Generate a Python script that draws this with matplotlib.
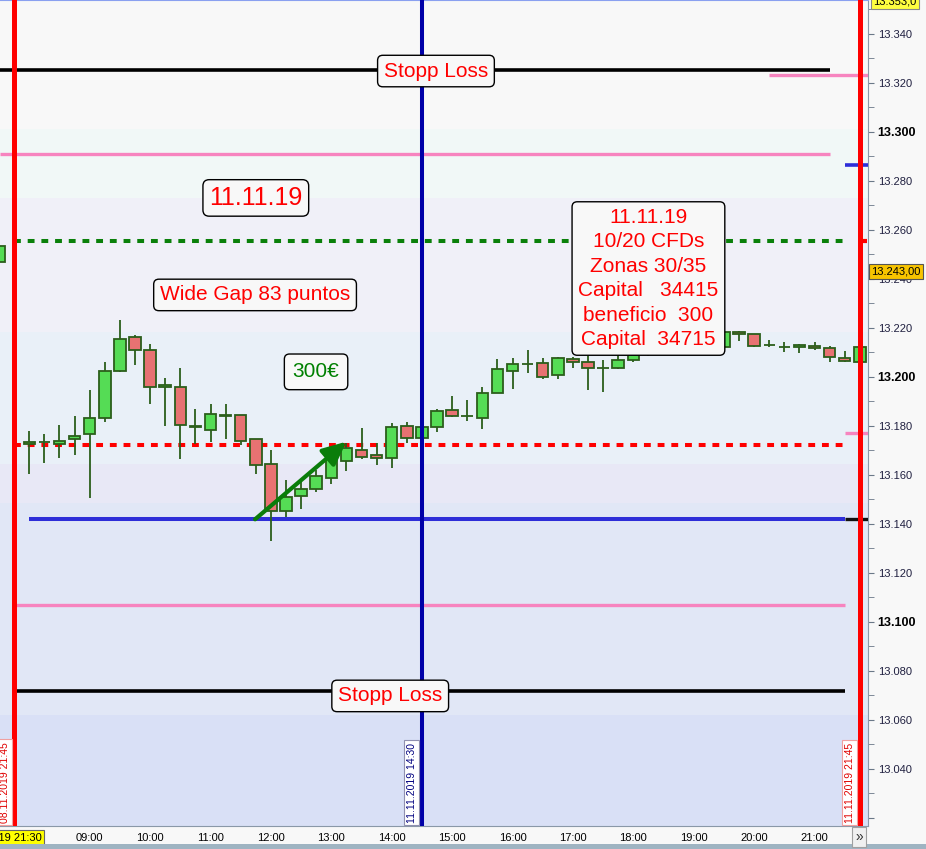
import matplotlib
matplotlib.use("Agg")
import matplotlib.pyplot as plt
from matplotlib.patches import Rectangle
import matplotlib.transforms as mtransforms
import matplotlib.ticker as mticker

plt.rcParams['font.family'] = ['Liberation Sans', 'DejaVu Sans']

# ---------------- data ----------------
# 15-minute slots; slot 0 = 11.11.2019 08:00, slot -2 = 08.11.2019 21:30
slots = [-2] + list(range(56))
opens = [13.2468,
         13.1725, 13.1733, 13.1727, 13.1745, 13.1765, 13.1831, 13.2022, 13.2161,
         13.2108, 13.1957, 13.1957, 13.1799, 13.1782, 13.1842, 13.1843, 13.1745,
         13.1643, 13.1451, 13.1512, 13.1541, 13.1586, 13.1658, 13.1700, 13.1680,
         13.1667, 13.1798, 13.1749, 13.1794, 13.1863, 13.1839, 13.1831, 13.1933,
         13.2022, 13.2053, 13.2055, 13.2006, 13.2071, 13.2059, 13.2037, 13.2035,
         13.2068, 13.2095, 13.2120, 13.2105, 13.2140, 13.2130, 13.2120, 13.2183,
         13.2174, 13.2130, 13.2122, 13.2122, 13.2125, 13.2116, 13.2076, 13.2062]
closes = [13.2535,
          13.1733, 13.1735, 13.1737, 13.1758, 13.1831, 13.2022, 13.2153, 13.2108,
          13.1957, 13.1965, 13.1802, 13.1795, 13.1847, 13.1841, 13.1737, 13.1639,
          13.1451, 13.1508, 13.1541, 13.1595, 13.1663, 13.1708, 13.1671, 13.1667,
          13.1794, 13.1749, 13.1794, 13.1859, 13.1839, 13.1838, 13.1933, 13.2031,
          13.2051, 13.2052, 13.1998, 13.2075, 13.2059, 13.2035, 13.2036, 13.2069,
          13.2095, 13.2120, 13.2105, 13.2140, 13.2130, 13.2120, 13.2182, 13.2174,
          13.2127, 13.2129, 13.2121, 13.2130, 13.2116, 13.2080, 13.2063, 13.2120]
highs = [13.2545,
         13.1779, 13.1765, 13.1802, 13.1840, 13.1946, 13.2060, 13.2232, 13.2171,
         13.2134, 13.1995, 13.2035, 13.1869, 13.1889, 13.1889, 13.1843, 13.1745,
         13.1700, 13.1579, 13.1579, 13.1620, 13.1689, 13.1731, 13.1790, 13.1729,
         13.1810, 13.1816, 13.1807, 13.1867, 13.1922, 13.1905, 13.1958, 13.2073,
         13.2076, 13.2109, 13.2076, 13.2082, 13.2082, 13.2089, 13.2069, 13.2089,
         13.2110, 13.2135, 13.2140, 13.2155, 13.2160, 13.2150, 13.2191, 13.2188,
         13.2174, 13.2150, 13.2141, 13.2133, 13.2143, 13.2125, 13.2107, 13.2131]
lows = [13.2460,
        13.1602, 13.1649, 13.1670, 13.1682, 13.1503, 13.1817, 13.2020, 13.2049,
        13.1890, 13.1800, 13.1666, 13.1727, 13.1735, 13.1747, 13.1720, 13.1602,
        13.1331, 13.1429, 13.1462, 13.1530, 13.1561, 13.1614, 13.1666, 13.1641,
        13.1627, 13.1729, 13.1738, 13.1776, 13.1835, 13.1821, 13.1788, 13.1933,
        13.1951, 13.2017, 13.1990, 13.1992, 13.2034, 13.1946, 13.1939, 13.2031,
        13.2060, 13.2085, 13.2095, 13.2100, 13.2115, 13.2110, 13.2118, 13.2147,
        13.2123, 13.2123, 13.2102, 13.2096, 13.2109, 13.2062, 13.2059, 13.2060]

hour_labels = ["09:00", "10:00", "11:00", "12:00", "13:00", "14:00", "15:00",
               "16:00", "17:00", "18:00", "19:00", "20:00", "21:00"]
hour_slots = [4, 8, 12, 16, 20, 24, 28, 32, 36, 40, 44, 48, 52]

stop_loss_hi = 13.3252
stop_loss_lo = 13.0717
pink_hi = 13.2911
pink_lo = 13.1069
green_level = 13.2556
red_level = 13.1720
blue_support = 13.1418
right_pink_hi = 13.3230
right_blue = 13.2866
right_pink_lo = 13.1772
last_price = 13.243
top_price = 13.353

arrow_from = (14.95, 13.1418)
arrow_to = (21.0, 13.1735)

session_close_prev = -1   # 08.11.2019 21:45
entry_slot = 26           # 11.11.2019 14:30
session_close = 55        # 11.11.2019 21:45

# background band edges (price) and colours
band_edges = [13.0, 13.0620, 13.1485, 13.1644, 13.2183, 13.2730, 13.3011, 13.4]
band_colors = ['#d9e0f6', '#e1e7f6', '#e8e8f6', '#e9f0f8', '#f0f0f8', '#f1f8f7', '#f8f8f8']

# ---------------- figure ----------------
W, H = 926, 849
fig = plt.figure(figsize=(W / 100, H / 100), dpi=100)
fig.patch.set_facecolor('#f8f8f8')
ax = fig.add_axes([0, 23 / H, 868 / W, 826 / H])

XMIN, XMAX = -1.94, 55.54
YMIN, YMAX = 13.0166, 13.3538
ax.set_xlim(XMIN, XMAX)
ax.set_ylim(YMIN, YMAX)

for lo, hi, c in zip(band_edges[:-1], band_edges[1:], band_colors):
    ax.axhspan(lo, hi, color=c, lw=0, zorder=0)

# horizontal levels
ax.hlines(stop_loss_hi, XMIN, 53, color='black', lw=2.6, zorder=3)
ax.hlines(pink_hi, XMIN, 53, color='#f784bf', lw=2.4, zorder=3)
ax.hlines(green_level, -1, 54, color='#0a800a', lw=2.9, linestyles=(0, (1.7, 1.7)), zorder=3)
ax.hlines(red_level, -1, 54, color='#ff0000', lw=2.9, linestyles=(0, (1.7, 1.7)), zorder=3)
ax.hlines(blue_support, 0, 54, color='#2e2ed8', lw=2.9, zorder=3)
ax.hlines(pink_lo, -1, 54, color='#f784bf', lw=2.4, zorder=3)
ax.hlines(stop_loss_lo, -1, 54, color='black', lw=2.6, zorder=3)
ax.hlines(right_pink_hi, 49, XMAX, color='#f784bf', lw=2.4, zorder=3)
ax.hlines(right_blue, 54, XMAX, color='#2e2ed8', lw=2.6, zorder=3)
ax.hlines(right_pink_lo, 54, XMAX, color='#f784bf', lw=2.4, zorder=3)
ax.hlines(blue_support, 54, XMAX, color='#111111', lw=2.4, zorder=3)

# candles
body_w = 0.76
edge = '#2b5e1b'
for s, o, h, l, c in zip(slots, opens, highs, lows, closes):
    ax.vlines(s, l, h, color=edge, lw=1.3, zorder=4)
    up = c >= o
    fc = '#55dc55' if up else '#e87272'
    bottom = min(o, c)
    height = max(abs(c - o), 0.00012)
    ax.add_patch(Rectangle((s - body_w / 2, bottom), body_w, height,
                           facecolor=fc, edgecolor=edge, lw=1.3, zorder=5))

# vertical session lines
ax.axvline(session_close_prev, color='#ff0000', lw=3.6, zorder=6)
ax.axvline(session_close, color='#ff0000', lw=3.6, zorder=6)
ax.axvline(entry_slot, color='#0000a8', lw=2.9, zorder=6)
ax.hlines(green_level, session_close, session_close + 0.45, color='#ff0000', lw=3, zorder=6)

# arrow
ax.annotate('', xy=arrow_to, xytext=arrow_from,
            arrowprops=dict(arrowstyle='-|>,head_length=1.3,head_width=0.6',
                            lw=3.0, color='#0a7d0a', shrinkA=0, shrinkB=0,
                            mutation_scale=11), zorder=7)

# text boxes
def box(pad):
    return dict(boxstyle=f'round,pad={pad},rounding_size=0.25', fc='#f8f8f8',
                ec='black', lw=1.0)

ax.text(26.93, 13.3248, 'Stopp Loss', color='#ff0000', fontsize=15,
        ha='center', va='center', bbox=box(0.3), zorder=8)
ax.text(23.9, 13.0697, 'Stopp Loss', color='#ff0000', fontsize=15,
        ha='center', va='center', bbox=box(0.3), zorder=8)
ax.text(15.0, 13.2730, '11.11.19', color='#ff0000', fontsize=18,
        ha='center', va='center', bbox=box(0.25), zorder=8)
ax.text(14.95, 13.2334, 'Wide Gap 83 puntos', color='#ff0000', fontsize=15,
        ha='center', va='center', bbox=box(0.3), zorder=8)
ax.text(18.99, 13.2020, '300€', color='#008000', fontsize=15,
        ha='center', va='center', bbox=box(0.4), zorder=8)
ax.text(41.0, 13.2401,
        '11.11.19\n10/20 CFDs\nZonas 30/35\nCapital   34415\nbeneficio  300\nCapital  34715',
        color='#ff0000', fontsize=15, ha='center', va='center', multialignment='center',
        linespacing=1.36, bbox=box(0.3), zorder=8)

# rotated time labels at the vertical lines
tr = mtransforms.blended_transform_factory(ax.transData, ax.transAxes)
def vlabel(x, txt, col, ec):
    ax.text(x, 0.004, txt, rotation=90, transform=tr, color=col, fontsize=7.5,
            ha='center', va='bottom',
            bbox=dict(boxstyle='square,pad=0.25', fc='white', ec=ec, lw=0.8), zorder=9)
vlabel(session_close_prev - 0.62, '08.11.2019 21:45', '#e00000', '#f0a0a0')
vlabel(entry_slot - 0.68, '11.11.2019 14:30', '#000080', '#9090b0')
vlabel(session_close - 0.68, '11.11.2019 21:45', '#e00000', '#f0a0a0')

# axes styling
ax.spines['left'].set_visible(False)
ax.spines['top'].set_color('#8aa0f0')
ax.spines['right'].set_color('#8a98a8')
ax.spines['bottom'].set_color('#8a98a8')

ax.yaxis.tick_right()
ax.yaxis.set_major_locator(mticker.MultipleLocator(0.02))
ax.yaxis.set_minor_locator(mticker.MultipleLocator(0.01))
ax.yaxis.set_major_formatter(
    mticker.FuncFormatter(lambda v, p: f'{v:.3f}' if v > 13.03 else ''))
ax.tick_params(axis='y', which='both', direction='out', length=4, color='#6a7888',
               labelsize=8, labelcolor='#202040', pad=3)
fig.canvas.draw()
for t in ax.yaxis.get_major_ticks():
    v = t.get_loc()
    if abs(round(v * 10) - v * 10) < 1e-6:
        t.label2.set_fontweight('bold')
        t.label2.set_fontsize(9)
        t.label2.set_color('black')

ax.set_xticks(hour_slots)
ax.set_xticklabels(hour_labels)
ax.tick_params(axis='x', length=0, labelsize=8, pad=5, labelcolor='black')

# price labels on the right axis
ytr = mtransforms.blended_transform_factory(ax.transAxes, ax.transData)
ax.text(1.004, last_price, '13.243,00', transform=ytr,
        fontsize=8, color='black', ha='left', va='center',
        bbox=dict(boxstyle='square,pad=0.2', fc='#f7c400', ec='#555555', lw=0.8),
        zorder=10, clip_on=False)
ax.text(1.006, top_price, '13.353,0', transform=ytr,
        fontsize=8, color='black', ha='left', va='center',
        bbox=dict(boxstyle='square,pad=0.2', fc='#ffff40', ec='#888888', lw=0.8),
        zorder=10, clip_on=False)

# bottom-left crosshair date label
ax.text(-2, -0.014, '08.11.2019 21:30', transform=tr, fontsize=8, color='black',
        ha='center', va='center', clip_on=False,
        bbox=dict(boxstyle='square,pad=0.2', fc='#ffff00', ec='#666666', lw=0.8), zorder=10)

# "»" button and bottom strip
fig.text(859 / W, 1 - 837 / H, '»', fontsize=10, ha='center', va='center', color='#333333',
         bbox=dict(boxstyle='square,pad=0.25', fc='#f0f0f0', ec='#a0a0a0', lw=0.8))
fig.patches.append(Rectangle((0, 0), 1, 5 / H, transform=fig.transFigure,
                             fc='#9fb4c2', ec='none', zorder=0))

fig.savefig('out.png', dpi=100, facecolor=fig.get_facecolor())
